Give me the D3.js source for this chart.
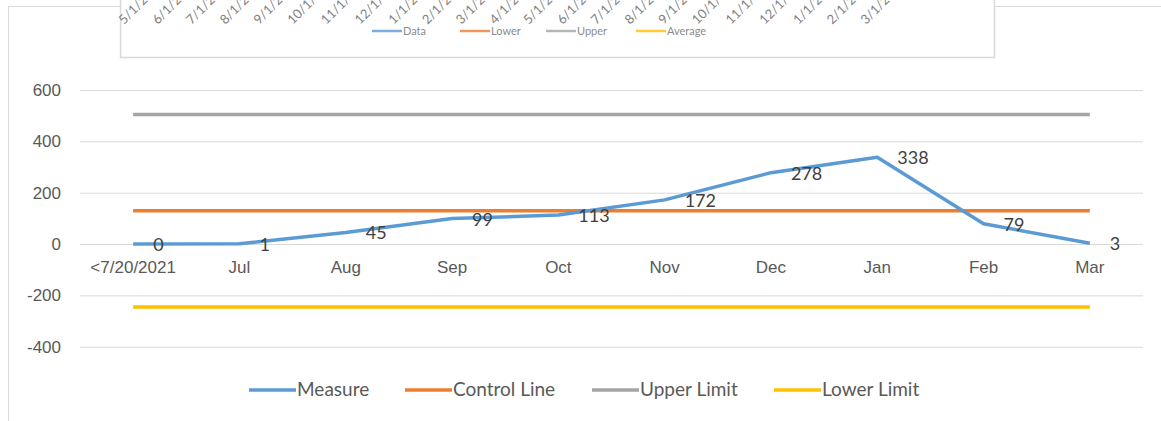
<!DOCTYPE html>
<html>
<head>
<meta charset="utf-8">
<script src="https://cdn.jsdelivr.net/npm/d3@7"></script>
<style>
  body { margin: 0; background: #fff; }
  svg { display: block; font-family: Lato, "Open Sans", sans-serif; }
</style>
</head>
<body>
<svg id="chart" width="1161" height="421"></svg>
<script>
// main chart data
let categories = ["<7/20/2021", "Jul", "Aug", "Sep", "Oct", "Nov", "Dec", "Jan", "Feb", "Mar"];
let measure = [0, 1, 45, 99, 113, 172, 278, 338, 79, 3];
let controlLine = [130, 130, 130, 130, 130, 130, 130, 130, 130, 130];
let upperLimit = [505, 505, 505, 505, 505, 505, 505, 505, 505, 505];
let lowerLimit = [-245, -245, -245, -245, -245, -245, -245, -245, -245, -245];
let yTicks = [-400, -200, 0, 200, 400, 600];
let legendNames = ["Measure", "Control Line", "Upper Limit", "Lower Limit"];

// the chart lying on top (cut off)
let insetDates = ["5/1/2020", "6/1/2020", "7/1/2020", "8/1/2020", "9/1/2020", "10/1/2020",
    "11/1/2020", "12/1/2020", "1/1/2021", "2/1/2021", "3/1/2021", "4/1/2021", "5/1/2021",
    "6/1/2021", "7/1/2021", "8/1/2021", "9/1/2021", "10/1/2021", "11/1/2021", "12/1/2021",
    "1/1/2022", "2/1/2022", "3/1/2022"];
let insetLegend = ["Data", "Lower", "Upper", "Average"];

let colors = ["#5b9bd5", "#ed7d31", "#a5a5a5", "#ffc000"];
let plot = { left: 80, right: 1143, top: 90, bottom: 346.7 };

let svg = d3.select("#chart");

// outer frame of the main chart
svg.append("rect")
    .attr("x", 8.5).attr("y", 6.5)
    .attr("width", 1170).attr("height", 430)
    .attr("fill", "#fff").attr("stroke", "#d9d9d9");

let xScale = d3.scaleBand()
    .domain(categories)
    .range([plot.left, plot.right]);
let xPos = d => xScale(d) + xScale.bandwidth() / 2;

let yScale = d3.scaleLinear()
    .domain([-400, 600])
    .range([plot.bottom, plot.top]);

// gridlines + y labels
let yAxis = svg.append("g")
    .attr("transform", `translate(${plot.left},0)`)
    .call(d3.axisLeft(yScale).tickValues(yTicks).tickFormat(d => String(d))
        .tickSize(-(plot.right - plot.left)).tickPadding(19));
yAxis.select(".domain").remove();
yAxis.selectAll("line").attr("stroke", "#d9d9d9").attr("stroke-width", 1);
yAxis.selectAll("text").attr("fill", "#595959").style("font-size", "17px")
    .style("font-family", "inherit");

// category labels sit under the zero line
let xAxis = svg.append("g")
    .attr("transform", `translate(0,${yScale(0)})`)
    .call(d3.axisBottom(xScale).tickSize(0).tickPadding(17));
xAxis.select(".domain").remove();
xAxis.selectAll("text").attr("fill", "#595959").style("font-size", "17px")
    .style("font-family", "inherit");

let series = [measure, controlLine, upperLimit, lowerLimit];
let line = d3.line()
    .x((d, i) => xPos(categories[i]))
    .y(d => yScale(d));

// draw flat lines first, measure on top
[2, 1, 3, 0].forEach(k => {
    svg.append("path")
        .datum(series[k])
        .attr("d", line)
        .attr("fill", "none")
        .attr("stroke", colors[k])
        .attr("stroke-width", 3.5)
        .attr("stroke-linejoin", "round");
});

// data labels to the right of each point
svg.append("g").selectAll("text")
    .data(measure)
    .join("text")
    .attr("x", (d, i) => xPos(categories[i]) + 20)
    .attr("y", d => yScale(d) + 7)
    .attr("fill", "#404040")
    .style("font-size", "18px")
    .text(d => d);

// bottom legend
let legend = svg.append("g").attr("transform", "translate(249,390)");
let lx = [0, 156, 343, 525];
legendNames.forEach((name, i) => {
    let g = legend.append("g").attr("transform", `translate(${lx[i]},0)`);
    g.append("line").attr("x1", 0).attr("x2", 47).attr("y1", 0).attr("y2", 0)
        .attr("stroke", colors[i]).attr("stroke-width", 3.5);
    g.append("text").attr("x", 48).attr("y", 6)
        .attr("fill", "#595959").style("font-size", "19px").text(name);
});

// ---- overlapping chart at the top ----
let inset = svg.append("g");
inset.append("rect")
    .attr("x", 120.5).attr("y", -10)
    .attr("width", 874).attr("height", 67.5)
    .attr("fill", "#fff").attr("stroke", "#d9d9d9").attr("stroke-width", 1.5);

let insetX = d3.scalePoint()
    .domain(insetDates)
    .range([124, 866]);

inset.append("g").selectAll("text")
    .data(insetDates)
    .join("text")
    .attr("transform", d => `translate(${insetX(d)},25) rotate(-45)`)
    .attr("fill", "#7f7f7f")
    .style("font-size", "13px")
    .text(d => d);

let insetLx = [372, 460, 546, 636];
insetLegend.forEach((name, i) => {
    let g = inset.append("g").attr("transform", `translate(${insetLx[i]},31)`);
    g.append("line").attr("x1", 0).attr("x2", 30).attr("y1", 0).attr("y2", 0)
        .attr("stroke", colors[i]).attr("stroke-width", 2.5).attr("opacity", 0.8);
    g.append("text").attr("x", 31).attr("y", 4)
        .attr("fill", "#8c8c8c").style("font-size", "11px").text(name);
});
</script>
</body>
</html>
